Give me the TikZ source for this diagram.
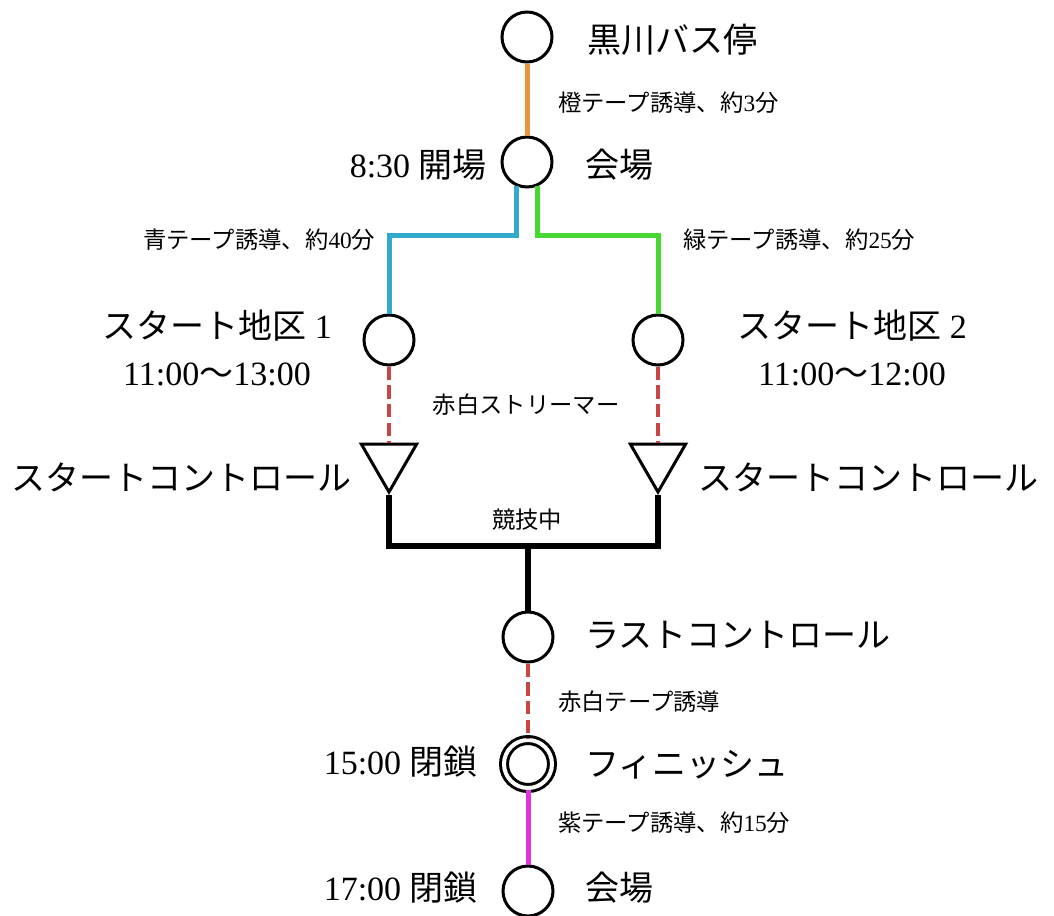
\documentclass[tikz,border=0pt]{standalone}
\usepackage{fontspec}
\setmainfont{Liberation Serif}
\newfontfamily\jp{Noto Sans CJK JP}
\usetikzlibrary{shapes.geometric}

\definecolor{tapeorange}{RGB}{232,150,60}
\definecolor{tapeblue}{RGB}{50,170,205}
\definecolor{tapegreen}{RGB}{70,215,50}
\definecolor{tapered}{RGB}{200,70,70}
\definecolor{tapepurple}{RGB}{225,50,225}

\tikzset{
    stop/.style={circle, draw, line width=2.25pt, minimum size=37.5pt, inner sep=0pt, fill=white},
    finish/.style={circle, draw, line width=2.25pt, double=white, double distance=3pt, minimum size=36pt, inner sep=0pt},
    control/.style={regular polygon, regular polygon sides=3, shape border rotate=180, draw, line width=2.25pt, minimum size=48pt, inner sep=0pt},
    biglbl/.style={inner sep=0pt, font=\fontsize{25.5}{35}\selectfont},
    smalllbl/.style={inner sep=0pt, font=\fontsize{17.5}{22}\selectfont},
    tape/.style={line width=3.75pt},
    streamer/.style={tapered, line width=2.3pt, dash pattern=on 10pt off 4pt},
    runline/.style={line width=4.5pt}
}

\begin{document}
\begin{tikzpicture}[x=0.75pt, y=-0.75pt]
\useasboundingbox (0,0) rectangle (1054,915);
\def\mid{528} % the main line

% Draw the stops
\node[stop] (bus) at (527,37) {};
\node[stop] (hall) at (527,162) {};
\node[stop] (sa1) at (389,340) {};
\node[stop] (sa2) at (658,340) {};
\node[control] (sc1) at (389,460) {};
\node[control] (sc2) at (658,460) {};
\node[stop] (last) at (\mid,637) {};
\node[finish] (fin) at (\mid,764) {};
\node[stop] (back) at (\mid,891) {};

% Draw the tapes
\draw[tape, tapeorange] (bus) -- (hall);
\draw[tape, tapeblue] (hall.-114) -- ++(0,49) -| (sa1);
\draw[tape, tapegreen] (hall.-66) -- ++(0,49) -| (sa2);
\draw[streamer] (sa1) -- (sc1.north);
\draw[streamer] (sa2) -- (sc2.north);
\draw[runline] (sc1.south) -- ++(0,51) coordinate (jl) -| (sc2.south);
\draw[runline] (jl -| last.north) -- (last.north);
\draw[streamer] (last) -- (fin);
\draw[tape, tapepurple] (fin) -- (back);

% Names of the stops
\node[biglbl, anchor=west] (busname) at (587,40) {\jp 黒川バス停};
\node[biglbl, anchor=east] (openlbl) at (487,165) {8:30 {\jp 開場}};
\node[biglbl, anchor=west] (hallname) at (585,165) {\jp 会場};
\node[biglbl, align=center] (sa1name) at (217,348) {{\jp スタート地区} 1\\11:00{\jp ～}13:00};
\node[biglbl, align=center] (sa2name) at (852,348) {{\jp スタート地区} 2\\11:00{\jp ～}12:00};
\node[biglbl, anchor=east] (sc1name) at (352,477) {\jp スタートコントロール};
\node[biglbl, anchor=west] (sc2name) at (698,477) {\jp スタートコントロール};
\node[biglbl, anchor=west] (lastname) at (585,635) {\jp ラストコントロール};
\node[biglbl, anchor=east] (close1) at (478,762) {15:00 {\jp 閉鎖}};
\node[biglbl, anchor=west] (finname) at (585,765) {\jp フィニッシュ};
\node[biglbl, anchor=east] (close2) at (478,888) {17:00 {\jp 閉鎖}};
\node[biglbl, anchor=west] (backname) at (585,888) {\jp 会場};

% Tape labels
\node[smalllbl, anchor=west] (orangelbl) at (558,103) {{\jp 橙テープ誘導、約}3{\jp 分}};
\node[smalllbl, anchor=west] (bluelbl) at (143,240) {{\jp 青テープ誘導、約}40{\jp 分}};
\node[smalllbl, anchor=west] (greenlbl) at (683,240) {{\jp 緑テープ誘導、約}25{\jp 分}};
\node[smalllbl] (streamlbl) at (526,405) {\jp 赤白ストリーマー};
\node[smalllbl] (racelbl) at (527,520) {\jp 競技中};
\node[smalllbl, anchor=west] (redlbl) at (558,702) {\jp 赤白テープ誘導};
\node[smalllbl, anchor=west] (purplelbl) at (558,823) {{\jp 紫テープ誘導、約}15{\jp 分}};

\end{tikzpicture}
\end{document}
